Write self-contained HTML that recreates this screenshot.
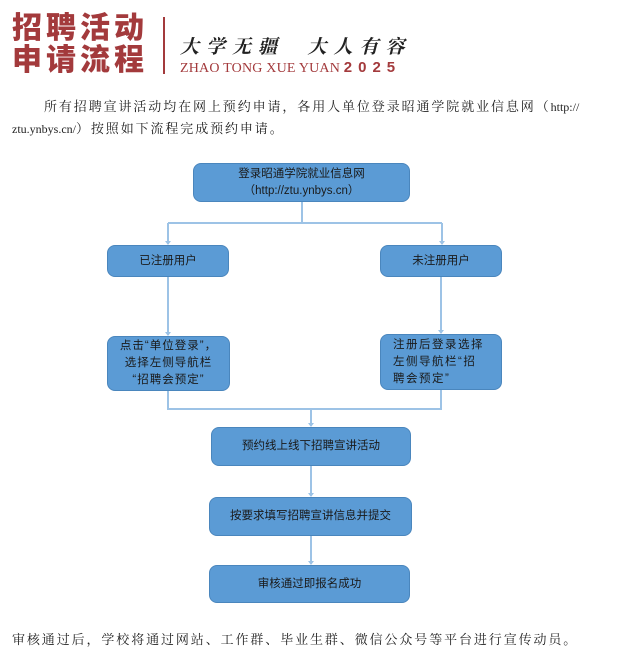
<!DOCTYPE html>
<html><head><meta charset="utf-8"><style>
body{margin:0;width:634px;height:671px;background:#fff;position:relative;overflow:hidden;font-family:"Liberation Serif","Noto Serif CJK SC",serif;}
.t{position:absolute;color:#a33a3c;font-family:"Liberation Sans","Noto Sans CJK SC",sans-serif;font-weight:900;font-size:30px;letter-spacing:4px;line-height:32px;}
.b{position:absolute;background:#5b9bd5;border:1.5px solid #4a86bd;border-radius:8px;box-sizing:border-box;color:#1a1a1a;font-size:11.5px;display:flex;align-items:center;justify-content:center;text-align:center;line-height:17px;font-family:"Liberation Sans","Noto Sans CJK SC",sans-serif;}
.p{position:absolute;font-size:13px;color:#222;letter-spacing:1.9px;font-family:"Liberation Serif","Noto Serif CJK SC",serif;white-space:nowrap;}
.l{letter-spacing:0;font-size:12px}
</style></head><body>
<div class="t" style="left:12px;top:13px">招聘活动</div>
<div class="t" style="left:12px;top:45px">申请流程</div>
<div style="position:absolute;left:163px;top:17px;width:2px;height:57px;background:#a33a3c"></div>
<div style="position:absolute;left:180px;top:32px;font-size:19px;font-style:italic;font-weight:bold;color:#222;letter-spacing:7px;font-family:'Noto Serif CJK SC',serif;white-space:nowrap">大学无疆&nbsp; 大人有容</div>
<div style="position:absolute;left:180px;top:59px;font-size:14px;color:#a33a3c;letter-spacing:0.2px;font-family:'Liberation Serif',serif;white-space:nowrap">ZHAO TONG XUE YUAN <b style="font-family:'Liberation Sans',sans-serif;font-size:15px;letter-spacing:6px">2025</b></div>
<div class="p" style="left:44px;top:96px">所有招聘宣讲活动均在网上预约申请，各用人单位登录昭通学院就业信息网（<span class="l">http://</span></div>
<div class="p" style="left:12px;top:118px"><span class="l">ztu.ynbys.cn/</span>）按照如下流程完成预约申请。</div>
<svg style="position:absolute;left:0;top:0" width="634" height="671">
<g stroke="#9dc3e6" stroke-width="2" fill="none">
<path d="M302 202V223M168 223H442M168 223V244M442 223V244M168 277V335M441 277V333M168 391V409H441V390M311 409V426M311 466V496M311 536V564"/>
</g>
<g fill="#9dc3e6"><path d="M165 241h6l-3 4zM439 241h6l-3 4zM165 332h6l-3 4zM438 330h6l-3 4zM308 423h6l-3 4zM308 493h6l-3 4zM308 561h6l-3 4z"/></g>
</svg>
<div class="b" style="left:193px;top:163px;width:217px;height:39px">登录昭通学院就业信息网<br>（http://ztu.ynbys.cn）</div>
<div class="b" style="left:107px;top:245px;width:122px;height:32px">已注册用户</div>
<div class="b" style="left:380px;top:245px;width:122px;height:32px">未注册用户</div>
<div class="b" style="left:107px;top:336px;width:123px;height:55px;letter-spacing:1px">点击“单位登录”，<br>选择左侧导航栏<br>“招聘会预定”</div>
<div class="b" style="left:380px;top:334px;width:122px;height:56px;text-align:left;justify-content:flex-start;padding-left:12px;letter-spacing:1.5px">注册后登录选择<br>左侧导航栏“招<br>聘会预定”</div>
<div class="b" style="left:211px;top:427px;width:200px;height:39px">预约线上线下招聘宣讲活动</div>
<div class="b" style="left:209px;top:497px;width:203px;height:39px">按要求填写招聘宣讲信息并提交</div>
<div class="b" style="left:209px;top:565px;width:201px;height:38px">审核通过即报名成功</div>
<div class="p" style="left:12px;top:629px">审核通过后，学校将通过网站、工作群、毕业生群、微信公众号等平台进行宣传动员。</div>
</body></html>
